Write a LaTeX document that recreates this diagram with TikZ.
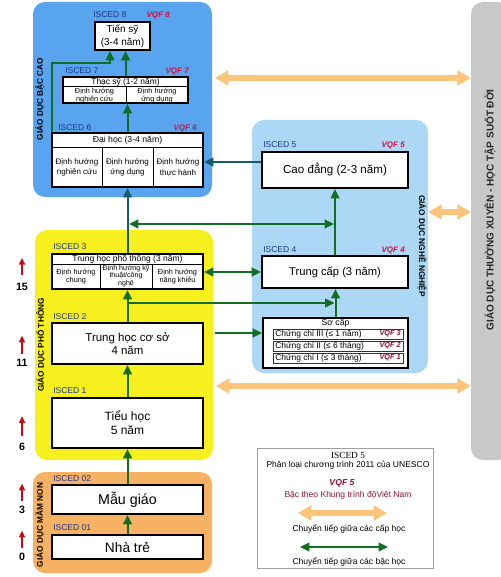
\documentclass[tikz,border=0pt]{standalone}
\usepackage{fontspec}
\setmainfont{Liberation Sans}
\newfontfamily\serifleg{Liberation Serif}
\usetikzlibrary{arrows.meta}
\definecolor{hiblue}{RGB}{88,164,238}
\definecolor{vocblue}{RGB}{172,216,245}
\definecolor{genyellow}{RGB}{246,240,30}
\definecolor{preorange}{RGB}{246,178,98}
\definecolor{lifegray}{RGB}{200,200,200}
\definecolor{arrorange}{RGB}{250,196,122}
\definecolor{agreen}{RGB}{18,110,36}
\definecolor{ateal}{RGB}{22,92,104}
\definecolor{iscedblue}{RGB}{30,55,140}
\definecolor{vqfred}{RGB}{205,20,70}
\definecolor{vqfdark}{RGB}{140,20,50}
\definecolor{agered}{RGB}{200,10,20}
\definecolor{leggray}{RGB}{160,160,160}
\begin{document}
\begin{tikzpicture}[x=0.75pt,y=-0.75pt,
  region/.style={rounded corners=9pt, inner sep=0pt, draw=none},
  box/.style={draw=black, line width=1.4pt, fill=white, inner sep=0pt, align=center},
  cell/.style={inner sep=0pt, align=center, font=\fontsize{5.5}{6.1}\selectfont},
  isced/.style={text=iscedblue, inner sep=0pt, anchor=west, font=\fontsize{6.4}{7}\selectfont},
  vqf/.style={text=vqfred, inner sep=0pt, anchor=east, font=\fontsize{6}{7}\selectfont\bfseries\itshape},
  sidelabel/.style={inner sep=0pt, font=\fontsize{6.2}{7}\selectfont\bfseries},
  garrow/.style={draw=agreen, line width=1.5pt, -{Triangle[length=7pt,width=6.5pt]}},
  gdarrow/.style={draw=agreen, line width=1.5pt, {Triangle[length=7pt,width=6.5pt]}-{Triangle[length=7pt,width=6.5pt]}},
  tarrow/.style={draw=ateal, line width=1.5pt, -{Triangle[length=7pt,width=6.5pt]}},
  oarrow/.style={draw=arrorange, line width=4.5pt, {Triangle[length=10pt,width=11pt]}-{Triangle[length=10pt,width=11pt]}},
  agearrow/.style={draw=agered, line width=1.1pt, -{Triangle[length=5pt,width=4.5pt]}},
  agenum/.style={inner sep=0pt, font=\fontsize{8}{9}\selectfont\bfseries},
  divider/.style={draw=black, line width=0.7pt},
  rowbox/.style={draw=black!80, line width=0.6pt},
  legtext/.style={inner sep=0pt, font=\fontsize{6.4}{7.5}\selectfont}
]
\useasboundingbox (0,0) rectangle (500,577);
\fill[white] (0,0) rectangle (500,577);

% ---------- regions ----------
\node[region, fill=hiblue, minimum width=134.25pt, minimum height=146.25pt] (rHigh) at (122.5,99.5) {};
\node[region, fill=vocblue, minimum width=132pt, minimum height=189.75pt] (rVoc) at (340,246.5) {};
\node[region, fill=genyellow, minimum width=133.5pt, minimum height=172.5pt] (rGen) at (124,345) {};
\node[region, fill=preorange, minimum width=134.25pt, minimum height=75.75pt] (rPre) at (122.5,522.5) {};
\node[region, fill=lifegray, minimum width=29.25pt, minimum height=343.5pt] (rLife) at (490.5,231) {};

% region labels
\node[sidelabel, rotate=90] (lHigh) at (40,99) {GIÁO DỤC BẬC CAO};
\node[sidelabel, rotate=90] (lGen) at (41,345) {GIÁO DỤC PHỔ THÔNG};
\node[sidelabel, rotate=90] (lPre) at (40,525) {GIÁO DỤC MẦM NON};
\node[sidelabel, rotate=-90] (lVoc) at (422,246) {GIÁO DỤC NGHỀ NGHIỆP};
\node[inner sep=0pt, rotate=90, text=black!85, font=\fontsize{7.5}{9}\selectfont\bfseries] (lLife) at (490,210) {GIÁO DỤC THƯỜNG XUYÊN - HỌC TẬP SUỐT ĐỜI};

% ---------- orange transitions ----------
\coordinate (oy1) at (0,78);
\coordinate (oy2) at (0,212);
\coordinate (oy3) at (0,386);
\draw[oarrow] ([xshift=2pt]rHigh.east |- oy1) -- (rLife.west |- oy1);
\draw[oarrow] (rVoc.east |- oy2) -- (rLife.west |- oy2);
\draw[oarrow] ([xshift=2pt]rGen.east |- oy3) -- (rLife.west |- oy3);

% ---------- higher education ----------
\node[isced] (i8) at (93,15) {ISCED 8};
\node[vqf] (v8) at (170,15) {VQF 8};
\node[box, minimum width=41.25pt, minimum height=21pt, font=\fontsize{7.5}{9.75}\selectfont] (tiensy) at (122.5,36) {Tiến sỹ\\(3-4 năm)};

\node[isced] (i7) at (65,71) {ISCED 7};
\node[vqf] (v7) at (189,71) {VQF 7};
\node[box, minimum width=93.75pt, minimum height=19.5pt] (thacsy) at (125.5,90) {};
\draw[divider] (63,86.5) -- (188,86.5);
\draw[divider] (126,86.5) -- (126,103);
\node[inner sep=0pt, font=\fontsize{6.3}{7}\selectfont] (thacsyh) at (125.5,81.8) {Thạc sỹ (1-2 năm)};
\node[cell] (ts1) at (94.5,95.6) {Định hướng\\nghiên cứu};
\node[cell] (ts2) at (157,95.6) {Định hướng\\ứng dụng};

\node[isced] (i6) at (58,128) {ISCED 6};
\node[vqf] (v6) at (197,128) {VQF 6};
\node[box, minimum width=113.25pt, minimum height=40.5pt] (daihoc) at (127.5,160) {};
\draw[divider] (52,147) -- (203,147);
\draw[divider] (102,147) -- (102,187);
\draw[divider] (153,147) -- (153,187);
\node[inner sep=0pt, font=\fontsize{6.5}{7}\selectfont] (daihoch) at (127.5,140) {Đại học (3-4 năm)};
\node[cell, font=\fontsize{6}{8}\selectfont] (dh1) at (77,167.5) {Định hướng\\nghiên cứu};
\node[cell, font=\fontsize{6}{8}\selectfont] (dh2) at (127.5,167.5) {Định hướng\\ứng dụng};
\node[cell, font=\fontsize{6}{8}\selectfont] (dh3) at (178,167.5) {Định hướng\\thực hành};

% ---------- vocational ----------
\node[isced] (i5) at (263,145) {ISCED 5};
\node[vqf] (v5) at (405,145) {VQF 5};
\node[box, minimum width=109.5pt, minimum height=27pt, font=\fontsize{8.7}{10}\selectfont] (caodang) at (335,170) {Cao đẳng (2-3 năm)};

\node[isced] (i4) at (263,250) {ISCED 4};
\node[vqf] (v4) at (405,250) {VQF 4};
\node[box, minimum width=109.5pt, minimum height=24pt, font=\fontsize{8.4}{10}\selectfont] (trungcap) at (335,272) {Trung cấp (3 năm)};

\node[box, minimum width=108.75pt, minimum height=37.5pt] (socap) at (335.5,343) {};
\node[inner sep=0pt, font=\fontsize{6.5}{7}\selectfont] (socaph) at (335.5,323.5) {Sơ cấp};
\draw[rowbox] (273,329) rectangle (403,339);
\draw[rowbox] (273,341) rectangle (403,351);
\draw[rowbox] (273,353) rectangle (403,363);
\node[inner sep=0pt, anchor=west, font=\fontsize{6.3}{7}\selectfont] (sc3) at (275,334) {Chứng chỉ III (≤ 1 năm)};
\node[inner sep=0pt, anchor=west, font=\fontsize{6.3}{7}\selectfont] (sc2) at (275,346) {Chứng chỉ II (≤ 6 tháng)};
\node[inner sep=0pt, anchor=west, font=\fontsize{6.3}{7}\selectfont] (sc1) at (275,358) {Chứng chỉ I (≤ 3 tháng)};
\node[vqf, text=vqfdark, font=\fontsize{5.5}{6}\selectfont\bfseries\itshape] (vq3) at (401,334) {VQF 3};
\node[vqf, text=vqfdark, font=\fontsize{5.5}{6}\selectfont\bfseries\itshape] (vq2) at (401,346) {VQF 2};
\node[vqf, text=vqfdark, font=\fontsize{5.5}{6}\selectfont\bfseries\itshape] (vq1) at (401,358) {VQF 1};

% ---------- general education ----------
\node[isced] (i3) at (53,247) {ISCED 3};
\node[box, minimum width=113.25pt, minimum height=26.25pt] (thpt) at (127.5,271.5) {};
\draw[divider] (52,264) -- (203,264);
\draw[divider] (100,264) -- (100,289);
\draw[divider] (152,264) -- (152,289);
\node[inner sep=0pt, font=\fontsize{6.4}{7}\selectfont] (thpth) at (127.5,259.3) {Trung học phổ thông (3 năm)};
\node[cell] (tp1) at (76,276.5) {Định hướng\\chung};
\node[cell, font=\fontsize{5.3}{5.8}\selectfont] (tp2) at (126,276) {Định hướng kỹ\\thuật/công\\nghệ};
\node[cell] (tp3) at (177.5,276.5) {Định hướng\\năng khiếu};

\node[isced] (i2) at (53,317) {ISCED 2};
\node[box, minimum width=113.25pt, minimum height=30.75pt, font=\fontsize{8.6}{10}\selectfont] (thcs) at (127.5,343.5) {Trung học cơ sở\\4 năm};

\node[isced] (i1) at (53,391) {ISCED 1};
\node[box, minimum width=113.25pt, minimum height=37.5pt, font=\fontsize{9}{10.5}\selectfont] (tieuhoc) at (127.5,423) {Tiểu học\\5 năm};

% ---------- pre-school ----------
\node[isced] (i02) at (53,479) {ISCED 02};
\node[box, minimum width=113.25pt, minimum height=21.75pt, font=\fontsize{10.7}{12}\selectfont] (maugiao) at (127.5,499.5) {Mẫu giáo};
\node[isced] (i01) at (53,528) {ISCED 01};
\node[box, minimum width=113.25pt, minimum height=18pt, font=\fontsize{10.3}{12}\selectfont] (nhatre) at (127.5,547) {Nhà trẻ};

% ---------- connectors ----------
\draw[garrow] (nhatre) -- (maugiao);
\draw[garrow] (maugiao) -- (tieuhoc);
\draw[garrow] (tieuhoc) -- (thcs);
\draw[garrow] (thcs) -- (thpt);
\draw[tarrow] (thpt) -- (daihoc);
\draw[garrow] (daihoc.north) -- (daihoc.north |- thacsy.south);
\draw[garrow] (thacsy.north) -- (thacsy.north |- tiensy.south);
\coordinate (kL) at (110,63);
\draw[garrow] ([xshift=0.6pt]daihoc.north west) |- (kL) -- (kL |- tiensy.south);
\draw[garrow] (trungcap) -- (caodang);
\draw[garrow] (socap.north) -- (socap.north |- trungcap.south);
\draw[tarrow] ([yshift=6pt]caodang.west) -- ([yshift=6pt]caodang.west -| daihoc.east);
\draw[gdarrow] (trungcap.west) -- (trungcap.west -| thpt.east);
\coordinate (h1L) at (129,224);
\coordinate (h1R) at (334,224);
\draw[gdarrow] (h1L) -- (h1R);
\coordinate (h2L) at (127.5,303);
\coordinate (h2R) at (334.5,303);
\draw[garrow] (h2L) -- (h2R);
\coordinate (h3L) at (215,333);
\draw[garrow] (h3L) -- (h3L -| socap.west);

% ---------- ages ----------
\node[agenum] (a15) at (22,287) {15};
\node[agenum] (a11) at (22,363) {11};
\node[agenum] (a6) at (22,447) {6};
\node[agenum] (a3) at (22,510) {3};
\node[agenum] (a0) at (22,557) {0};
\draw[agearrow] ([yshift=6pt]a15.north) -- ++(0,-17);
\draw[agearrow] ([yshift=4pt]a11.north) -- ++(0,-18);
\draw[agearrow] ([yshift=5pt]a6.north) -- ++(0,-20);
\draw[agearrow] ([yshift=4pt]a3.north) -- ++(0,-17);
\draw[agearrow] ([yshift=4pt]a0.north) -- ++(0,-17);

% ---------- legend ----------
\node[draw=leggray, line width=0.6pt, fill=white, inner sep=0pt, minimum width=132pt, minimum height=90pt] (leg) at (345,508) {};
\node[legtext, font=\serifleg\fontsize{7}{8}\selectfont] (lg1) at (348,455) {ISCED 5};
\node[legtext] (lg2) at (348,465.5) {Phân loại chương trình 2011 của UNESCO};
\node[legtext, text=vqfdark, font=\fontsize{6.5}{7.5}\selectfont\bfseries\itshape] (lg3) at (342,483) {VQF 5};
\node[legtext, text=vqfdark] (lg4) at (348,495) {Bậc theo Khung trình độViệt Nam};
\coordinate (lo1) at (298,513);
\coordinate (lo2) at (387,513);
\draw[oarrow] (lo1) -- (lo2);
\node[legtext] (lg5) at (349,529) {Chuyển tiếp giữa các cấp học};
\coordinate (lgr1) at (300,547);
\coordinate (lgr2) at (388,547);
\draw[gdarrow] (lgr1) -- (lgr2);
\node[legtext] (lg6) at (349,562) {Chuyển tiếp giữa các bậc học};
\end{tikzpicture}
\end{document}
